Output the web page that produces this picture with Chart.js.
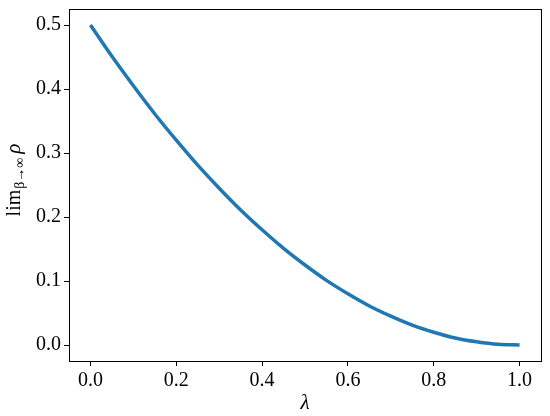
<!DOCTYPE html>
<html lang="en">
  <head>
    <meta charset="UTF-8" />
    <title>lim rho vs lambda</title>
    <script src="https://cdn.jsdelivr.net/npm/chart.js"></script>
    <style>
      body {
        margin: 0;
        padding: 0;
        background: #fff;
      }
      .wrap {
        width: 550px;
        height: 416px;
      }
    </style>
  </head>
  <body>
    <div class="wrap"><canvas id="rhoChart"></canvas></div>

    <script>
      // values
      const lambdaVals = [0, 0.05, 0.1, 0.15, 0.2, 0.25, 0.3, 0.35, 0.4, 0.45, 0.5,
        0.55, 0.6, 0.65, 0.7, 0.75, 0.8, 0.85, 0.9, 0.95, 1.0];
      const rhoVals = [0.5, 0.451, 0.405, 0.361, 0.32, 0.281, 0.245, 0.211, 0.18, 0.151,
        0.125, 0.101, 0.08, 0.061, 0.045, 0.031, 0.02, 0.011, 0.005, 0.001, 0.0];
      const xTicks = [0, 0.2, 0.4, 0.6, 0.8, 1.0];
      const yTicks = [0, 0.1, 0.2, 0.3, 0.4, 0.5];

      const serif = "'Liberation Serif', 'DejaVu Serif', serif";

      // frame around the plot area + the y label with subscript
      const framePlugin = {
        id: "frame",
        afterDraw(chart) {
          const { ctx, chartArea: a } = chart;
          ctx.save();
          ctx.strokeStyle = "#000";
          ctx.lineWidth = 1;
          ctx.strokeRect(a.left + 0.5, a.top + 0.5, a.right - a.left, a.bottom - a.top);

          // y axis title: lim_{β→∞} ρ, rotated
          ctx.translate(20, 180);
          ctx.rotate(-Math.PI / 2);
          ctx.fillStyle = "#000";
          ctx.textBaseline = "alphabetic";
          const big = "20px " + serif;
          const small = "14px " + serif;
          const itBig = "italic 21px " + serif;
          ctx.font = big;
          const w1 = ctx.measureText("lim").width;
          ctx.font = small;
          const w2 = ctx.measureText("β→∞").width;
          ctx.font = itBig;
          const w3 = ctx.measureText("ρ").width;
          const total = w1 + w2 + w3 + 5;
          let x = -total / 2;
          ctx.font = big;
          ctx.fillText("lim", x, 0);
          x += w1 + 1;
          ctx.font = small;
          ctx.fillText("β→∞", x, 4);
          x += w2 + 4;
          ctx.font = itBig;
          ctx.fillText("ρ", x, 0);
          ctx.restore();
        },
      };

      const ctx = document.getElementById("rhoChart").getContext("2d");
      new Chart(ctx, {
        type: "line",
        data: {
          datasets: [
            {
              data: lambdaVals.map((l, i) => ({ x: l, y: rhoVals[i] })),
              borderColor: "#1f77b4",
              borderWidth: 3.5,
              pointRadius: 0,
              fill: false,
              cubicInterpolationMode: "monotone",
            },
          ],
        },
        options: {
          responsive: true,
          maintainAspectRatio: false,
          animation: false,
          layout: { padding: { top: 9, right: 9 } },
          plugins: {
            legend: { display: false },
            tooltip: { enabled: false },
          },
          scales: {
            x: {
              type: "linear",
              min: -0.05,
              max: 1.05,
              afterBuildTicks: (s) => {
                s.ticks = xTicks.map((v) => ({ value: v }));
              },
              afterFit: (s) => {
                s.height = 55;
                s.paddingLeft = 0;
                s.paddingRight = 0;
              },
              grid: {
                drawOnChartArea: false,
                drawTicks: true,
                tickLength: 5,
                color: "#000",
              },
              border: { display: true, color: "#000" },
              ticks: {
                color: "#000",
                padding: 3,
                font: { family: serif, size: 20 },
                maxRotation: 0,
                callback: (v) => v.toFixed(1),
              },
              title: {
                display: true,
                text: "λ",
                color: "#000",
                padding: { top: 0, bottom: 0 },
                font: { family: serif, size: 21, style: "italic" },
              },
            },
            y: {
              min: -0.025,
              max: 0.525,
              afterBuildTicks: (s) => {
                s.ticks = yTicks.map((v) => ({ value: v }));
              },
              afterFit: (s) => {
                s.width = 69;
                s.paddingTop = 0;
                s.paddingBottom = 0;
              },
              grid: {
                drawOnChartArea: false,
                drawTicks: true,
                tickLength: 5,
                color: "#000",
              },
              border: { display: true, color: "#000" },
              ticks: {
                color: "#000",
                padding: 3,
                font: { family: serif, size: 20 },
                callback: (v) => v.toFixed(1),
              },
            },
          },
        },
        plugins: [framePlugin],
      });
    </script>
  </body>
</html>
